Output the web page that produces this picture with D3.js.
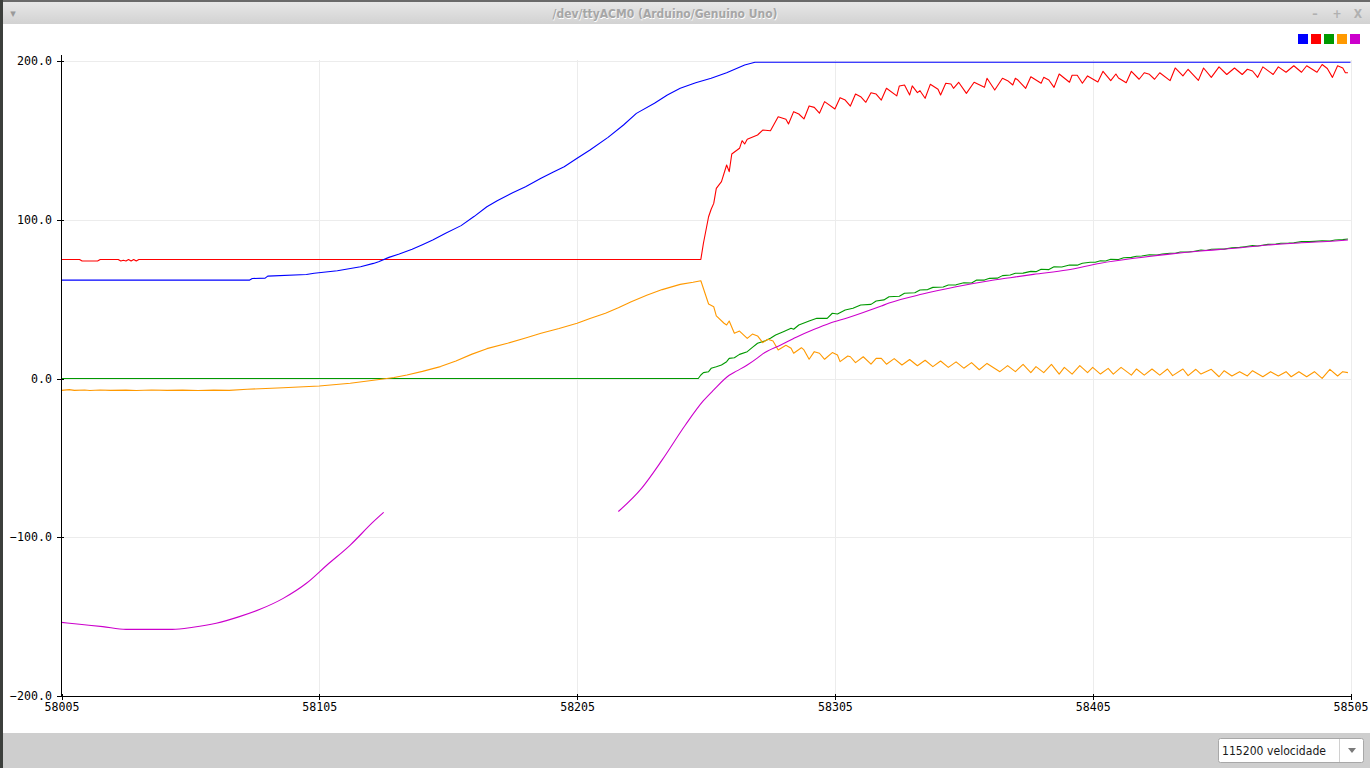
<!DOCTYPE html>
<html><head><meta charset="utf-8">
<script src="https://cdn.jsdelivr.net/npm/d3@7/dist/d3.min.js"></script>
<style>html,body{margin:0;padding:0;background:#fff;overflow:hidden}svg{display:block}</style>
</head><body>
<svg id="c" width="1370" height="768"></svg>
<script>
// ---- data ----
const windowTitle = "/dev/ttyACM0 (Arduino/Genuino Uno)";
const baudLabel = "115200 velocidade";
const xTicks = [58005, 58105, 58205, 58305, 58405, 58505];
const yTicks = [-200, -100, 0, 100, 200];
const seriesColors = ["#0000ff", "#ff0000", "#009900", "#ff9900", "#cc00cc"];

const blueSeries = [[58005,62],[58078,62],[58079,63],[58084,63.2],[58085,64.5],[58100,65.5],[58103,66.3],[58112,67.9],[58121,70.4],[58126,72.5],[58128,73.6],[58132,76.3],[58136,78.4],[58141,81.4],[58145,84.3],[58149,87.2],[58154,91.5],[58160,96.3],[58165,102],[58170,108.2],[58174,112],[58180,117],[58185,120.8],[58191,126.1],[58196,130.3],[58200,133.4],[58205,138.7],[58210,143.9],[58217,151.9],[58223,159.7],[58228,167],[58235,173.4],[58240,178.6],[58245,182.8],[58251,186.3],[58257,189.1],[58263,192.6],[58270,197.5],[58274,199.2],[58505,199.2]];

const redSeries = [[58005,75],[58012,75],[58013,74],[58019,74],[58020,75],[58027,75],[58028,74],[58029,74.5],[58030,74],[58031,75],[58032,74],[58033,75],[58034,74],[58035,75],[58253,75],[58254,85.2],[58256,101.9],[58257,106.6],[58258,110.3],[58259,119.8],[58261,124],[58263,134.5],[58264,130.3],[58265,141.4],[58268,145],[58269,149.8],[58270,147.7],[58271,150.7],[58275,153.4],[58277,156.5],[58280,156.1],[58283,164.9],[58286,163.3],[58287,160.3],[58289,168.1],[58291,166.6],[58293,163.5],[58295,171.7],[58297,170.8],[58299,167.1],[58301,174.4],[58305,169.8],[58307,176.9],[58309,175.4],[58311,171.6],[58313,179.2],[58315,177.5],[58317,174],[58319,180],[58321,179.2],[58323,175.4],[58325,182.8],[58329,178],[58330,184.3],[58332,184.9],[58334,178.6],[58335,184.3],[58337,180.1],[58338,181.3],[58340,176.5],[58342,185.3],[58345,182.2],[58346,178.6],[58348,186],[58350,185.5],[58351,182.8],[58353,186.6],[58356,179.6],[58359,186.6],[58363,183.4],[58364,189.1],[58367,181.7],[58370,189.1],[58372,187.6],[58374,184.9],[58375,189.1],[58376,188],[58379,182.8],[58381,190.1],[58385,186],[58386,189.7],[58388,188],[58390,183.4],[58392,191.8],[58396,186.6],[58397,191],[58399,191],[58401,186],[58403,190.6],[58407,186.8],[58409,193.5],[58412,187.6],[58414,191.8],[58415,189.3],[58418,186.3],[58420,193.5],[58423,188.5],[58425,192.6],[58427,191.6],[58429,188.5],[58431,192.6],[58435,187.6],[58437,195.6],[58440,190.6],[58442,194.8],[58446,187.8],[58448,195.6],[58451,189.7],[58454,196.3],[58457,191.5],[58460,195.6],[58463,191.5],[58465,194.8],[58467,193.7],[58469,189.7],[58471,196.3],[58475,191.5],[58477,196.3],[58480,192.9],[58483,197],[58486,192.9],[58488,197],[58492,192.9],[58494,197.8],[58496,195.3],[58498,189.7],[58500,197],[58502,195.6],[58503,192.6],[58504,192.6]];

const greenSeries = [[58005,0],[58252,0],[58253,2.2],[58254,3.7],[58256,4.3],[58257,6.4],[58259,7.4],[58261,8.5],[58263,10.6],[58264,12.7],[58266,13.1],[58268,15.2],[58271,16.9],[58273,19.6],[58275,22.2],[58278,23.8],[58280,25.3],[58282,27.4],[58285,29.5],[58288,31.6],[58289,31],[58291,33.7],[58295,36.2],[58298,37.9],[58302,37.9],[58304,41.1],[58306,40.6],[58309,43.1],[58312,44.2],[58315,46.3],[58319,46.7],[58321,48.8],[58324,49.5],[58326,51.5],[58330,51.8],[58332,53.7],[58336,54],[58338,55.7],[58341,56],[58343,57.4],[58347,57.6],[58349,58.9],[58352,59],[58355,60.3],[58358,60.2],[58360,62],[58363,62],[58365,63.1],[58368,63.2],[58370,64.8],[58373,65.2],[58375,66.3],[58378,66.4],[58381,67.5],[58383,67.3],[58385,68.8],[58388,68.6],[58390,70.4],[58393,70.2],[58396,71.5],[58399,71.4],[58401,72.6],[58404,73.2],[58406,73.2],[58408,74.2],[58410,74],[58412,75.1],[58415,75],[58417,76.1],[58420,76.3],[58422,77],[58424,77.2],[58427,78],[58430,77.8],[58432,78.4],[58435,78.9],[58437,78.9],[58439,79.7],[58442,79.7],[58444,80],[58447,80.9],[58449,80.6],[58451,81.4],[58454,81.6],[58456,81.5],[58459,82.4],[58462,82.6],[58464,83],[58467,83.7],[58469,83.5],[58473,84.5],[58476,84.7],[58478,85.2],[58481,85.3],[58483,85.5],[58486,86.2],[58489,86.2],[58491,86.4],[58494,86.8],[58497,86.6],[58499,87.2],[58502,87.5],[58504,87.9]];

const orangeSeries = [[58005,-7.5],[58008,-7],[58010,-7.5],[58014,-7.2],[58016,-7.6],[58020,-7.2],[58024,-7.5],[58030,-7.3],[58034,-7.6],[58040,-7.2],[58046,-7.5],[58052,-7.3],[58058,-7.6],[58064,-7.3],[58070,-7.5],[58077,-6.8],[58091,-5.8],[58105,-4.7],[58117,-3],[58129,-0.5],[58134,0.6],[58139,2.2],[58145,4.5],[58152,7.5],[58158,11],[58164,15.2],[58170,18.8],[58178,22.2],[58185,25.5],[58191,28.5],[58198,31.5],[58205,34.8],[58210,37.8],[58216,41.1],[58221,44.5],[58226,48.4],[58232,52.5],[58238,56],[58245,59.3],[58250,60.6],[58253,61.6],[58256,46.9],[58258,45.2],[58259,39.4],[58262,34.8],[58263,33.7],[58264,36.2],[58266,28.5],[58268,29.9],[58271,25.3],[58273,28],[58275,26.8],[58277,22.6],[58279,24.7],[58281,23.6],[58283,18],[58286,20.9],[58288,19],[58289,15.9],[58292,19.4],[58293,18],[58295,12.1],[58297,16.9],[58299,15.9],[58301,12.1],[58304,16.3],[58306,14.8],[58307,10.6],[58310,14.2],[58311,13.7],[58313,10],[58316,13.7],[58319,9.1],[58321,12.7],[58323,12.7],[58325,9],[58328,12.5],[58331,8.5],[58334,12],[58337,8],[58340,11.5],[58343,7.5],[58346,11],[58349,7],[58352,10.5],[58355,6.5],[58358,10],[58361,5.5],[58364,9.5],[58369,4.3],[58372,8.1],[58375,4.3],[58378,8.9],[58381,3.7],[58383,7.5],[58386,3.7],[58389,8.9],[58392,2.8],[58394,7],[58397,2.8],[58400,8.1],[58403,3.7],[58405,7],[58408,2.8],[58411,6.4],[58413,2.8],[58416,7],[58420,2.1],[58422,6],[58425,2.1],[58428,6],[58431,2.1],[58434,6],[58436,1.8],[58440,6],[58442,1.8],[58445,5.8],[58447,2.8],[58451,5.8],[58454,1.1],[58456,4.9],[58459,1.6],[58462,4.3],[58465,1.6],[58467,4.9],[58471,1.1],[58474,4.3],[58477,1.6],[58480,4.3],[58482,1.1],[58485,4.3],[58488,1.1],[58491,4.3],[58494,0.1],[58497,5.8],[58500,1.6],[58502,4.3],[58504,3.7]];

const magentaSeriesA = [[58005,-153.6],[58012,-154.8],[58021,-156.3],[58030,-158],[58048,-158],[58056,-156.7],[58065,-154.2],[58074,-150],[58082,-145.4],[58091,-138.5],[58100,-129],[58108,-117.5],[58117,-104.9],[58126,-90.2],[58130,-84.3]];
const magentaSeriesB = [[58221,-83.8],[58230,-69.2],[58238,-51.3],[58247,-29.3],[58254,-14],[58258,-7.2],[58264,2],[58267,4.8],[58271,8.5],[58275,13],[58277,15.5],[58284,21.1],[58290,26],[58297,31],[58303,34.8],[58310,38.3],[58316,41.6],[58323,45.7],[58326,47.5],[58339,53.2],[58352,57.8],[58365,61.6],[58373,63.5],[58382,65.6],[58395,68.3],[58408,72.6],[58421,75.7],[58434,78.2],[58447,80.3],[58460,82],[58473,84.1],[58486,85.5],[58499,86.6],[58504,87.2]];

// ---- drawing ----
const svg = d3.select("#c");
const W = 1370, H = 768;

// window chrome
const defs = svg.append("defs");
const g1 = defs.append("linearGradient").attr("id","tb").attr("x1",0).attr("y1",0).attr("x2",0).attr("y2",1);
g1.append("stop").attr("offset","0").attr("stop-color","#e9e9e9");
g1.append("stop").attr("offset","1").attr("stop-color","#d2d2d2");
svg.append("rect").attr("x",0).attr("y",0).attr("width",W).attr("height",H).attr("fill","#ffffff");
svg.append("rect").attr("x",0).attr("y",0).attr("width",W).attr("height",24).attr("fill","url(#tb)");
svg.append("rect").attr("x",0).attr("y",0).attr("width",W).attr("height",2).attr("fill","#6a6a6a");
svg.append("text").attr("x",665).attr("y",18).attr("text-anchor","middle")
  .attr("font-family","DejaVu Sans Condensed, DejaVu Sans, sans-serif").attr("font-weight","bold").attr("font-size",12)
  .attr("fill","#ffffff").attr("textLength",225).attr("lengthAdjust","spacingAndGlyphs").attr("dx",0.6).attr("dy",0.6).text(windowTitle);
svg.append("text").attr("x",665).attr("y",18).attr("text-anchor","middle")
  .attr("font-family","DejaVu Sans Condensed, DejaVu Sans, sans-serif").attr("font-weight","bold").attr("font-size",12)
  .attr("fill","#a6a6a6").attr("textLength",225).attr("lengthAdjust","spacingAndGlyphs").text(windowTitle);
svg.append("text").attr("x",13).attr("y",17).attr("text-anchor","middle").attr("font-family","DejaVu Sans").attr("font-size",11).attr("fill","#9a9a9a").text("▾");
[["–",1315],["+",1337],["X",1358]].forEach(([t,xx])=>{
  svg.append("text").attr("x",xx).attr("y",18).attr("text-anchor","middle").attr("font-family","DejaVu Sans Condensed, DejaVu Sans").attr("font-weight","bold").attr("font-size",12).attr("fill","#b0b0b0").text(t);
});

// scales
const x = d3.scaleLinear().domain([58005,58505]).range([61.5,1350.5]);
const y = d3.scaleLinear().domain([-200,200]).range([696,61]);

// grid
const grid = svg.append("g").attr("shape-rendering","crispEdges");
grid.selectAll(".gx").data(xTicks.slice(1)).join("line")
  .attr("x1",d=>Math.round(x(d))+0.5).attr("x2",d=>Math.round(x(d))+0.5).attr("y1",y(200)-1).attr("y2",y(-200))
  .attr("stroke","#ececec").attr("stroke-width",1);
grid.selectAll(".gy").data(yTicks.slice(1)).join("line")
  .attr("x1",x(58005)).attr("x2",x(58505)).attr("y1",d=>Math.round(y(d))+0.5).attr("y2",d=>Math.round(y(d))+0.5)
  .attr("stroke","#ececec").attr("stroke-width",1);

// series
const line = d3.line().x(d=>x(d[0])).y(d=>y(d[1]));
const smooth = d3.line().x(d=>x(d[0])).y(d=>y(d[1])).curve(d3.curveMonotoneX);
const plot = svg.append("g").attr("fill","none").attr("stroke-width",1.1).attr("stroke-linejoin","round");
plot.append("path").datum(redSeries).attr("d",line).attr("stroke",seriesColors[1]);
plot.append("path").datum(blueSeries).attr("d",line).attr("stroke",seriesColors[0]);
plot.append("path").datum(greenSeries).attr("d",line).attr("stroke",seriesColors[2]);
plot.append("path").datum(orangeSeries).attr("d",line).attr("stroke",seriesColors[3]);
plot.append("path").datum(magentaSeriesA).attr("d",smooth).attr("stroke",seriesColors[4]);
plot.append("path").datum(magentaSeriesB).attr("d",smooth).attr("stroke",seriesColors[4]);

// axes
const font = "DejaVu Sans Mono, Liberation Mono, monospace";
const yAxis = svg.append("g").attr("transform","translate(61.5,0)")
  .call(d3.axisLeft(y).tickValues(yTicks).tickFormat(d3.format(".1f")).tickSize(4).tickPadding(6));
yAxis.select(".domain").remove();
yAxis.selectAll(".tick line").attr("x1",2.5).attr("x2",-4.5).attr("stroke","#000").attr("shape-rendering","crispEdges");
yAxis.selectAll(".tick text").attr("font-family",font).attr("font-size",11.6).attr("fill","#000").attr("x",-9.5);
yAxis.append("line").attr("x1",0).attr("x2",0).attr("y1",55).attr("y2",696.5).attr("stroke","#000").attr("shape-rendering","crispEdges");

const xAxis = svg.append("g").attr("transform","translate(0,696.5)")
  .call(d3.axisBottom(x).tickValues(xTicks).tickFormat(d3.format("d")).tickSize(4).tickPadding(3));
xAxis.select(".domain").remove();
xAxis.selectAll(".tick line").attr("y1",-3).attr("y2",3.5).attr("stroke","#000").attr("shape-rendering","crispEdges");
xAxis.selectAll(".tick text").attr("font-family",font).attr("font-size",11.6).attr("fill","#000").attr("y",6).attr("dy","0.71em");
xAxis.append("line").attr("x1",61).attr("x2",1351).attr("y1",0).attr("y2",0).attr("stroke","#000").attr("shape-rendering","crispEdges");

// legend squares
svg.append("g").selectAll("rect").data(seriesColors).join("rect")
  .attr("x",(d,i)=>1298 + i*13).attr("y",34).attr("width",10).attr("height",10).attr("fill",d=>d);

// bottom bar
svg.append("rect").attr("x",0).attr("y",733).attr("width",W).attr("height",35).attr("fill","#cecece");
svg.append("rect").attr("x",1218.5).attr("y",738.5).attr("width",145).attr("height",24).attr("rx",2)
  .attr("fill","#ffffff").attr("stroke","#a8a8a8");
svg.append("line").attr("x1",1339.5).attr("x2",1339.5).attr("y1",739).attr("y2",762).attr("stroke","#d0d0d0");
svg.append("path").attr("d","M1348,748 L1356,748 L1352,753 Z").attr("fill","#7a7a7a");
svg.append("text").attr("x",1222).attr("y",755).attr("font-family","DejaVu Sans, sans-serif").attr("font-size",11.5)
  .attr("fill","#1a1a1a").attr("textLength",104).attr("lengthAdjust","spacingAndGlyphs").text(baudLabel);

// left desktop strip
svg.append("rect").attr("x",0).attr("y",0).attr("width",3).attr("height",H).attr("fill","#3c3f3c");
</script>
</body></html>
